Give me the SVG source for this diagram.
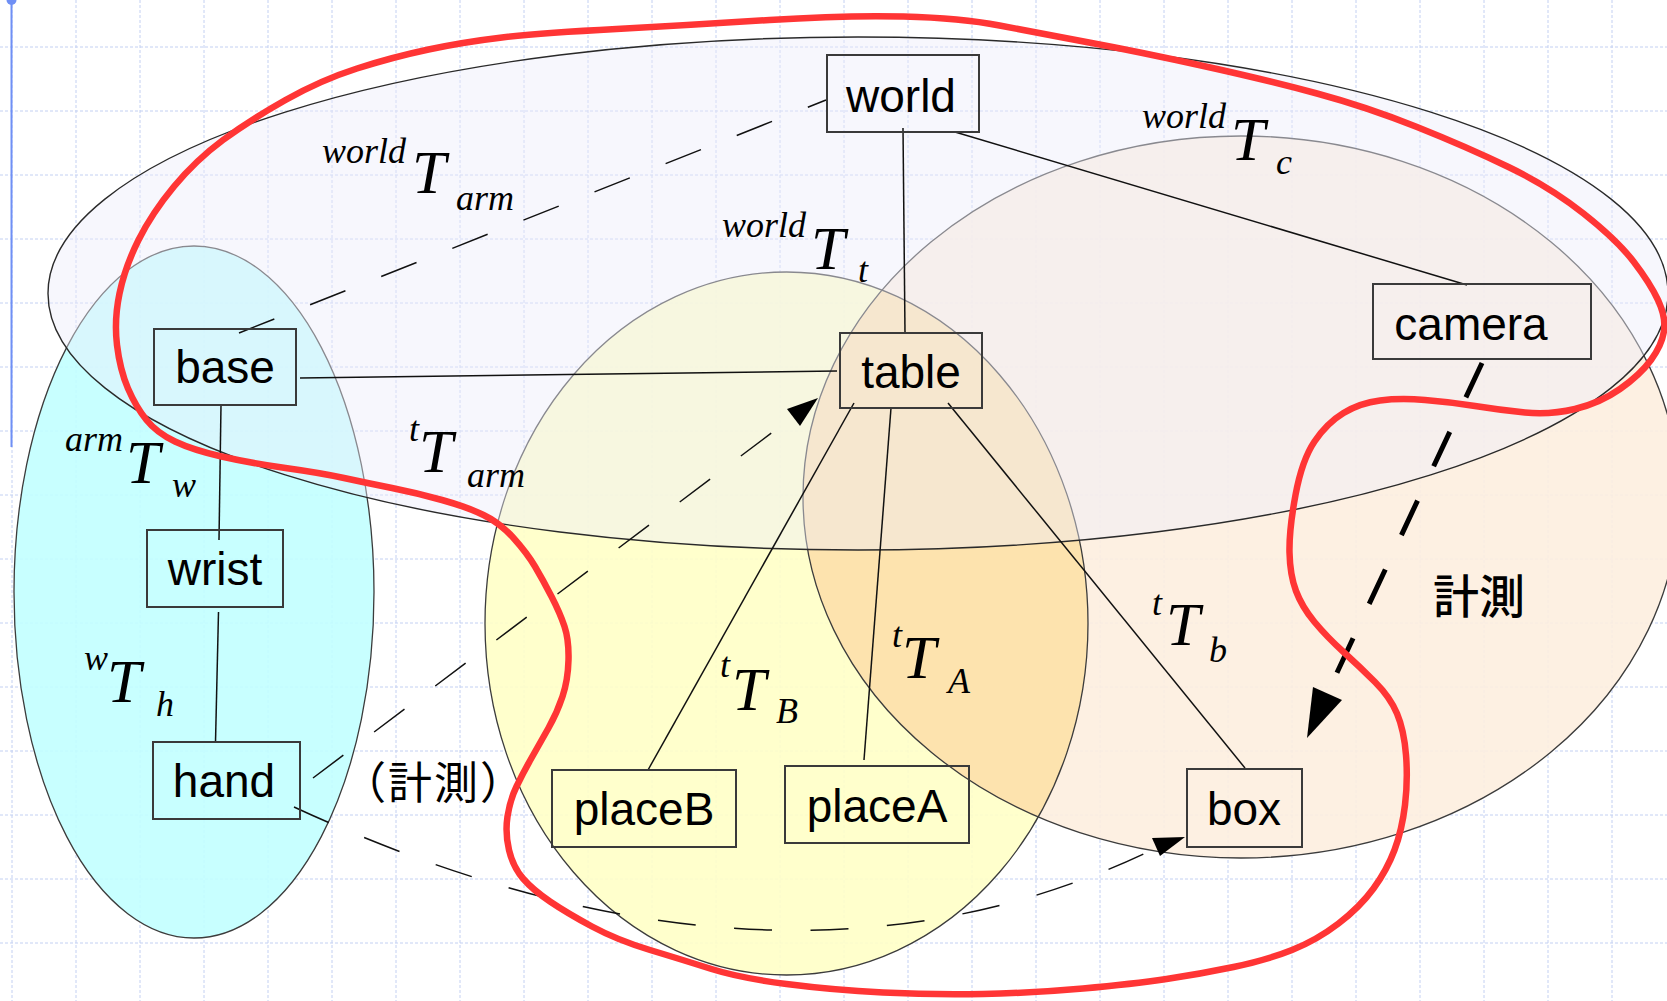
<svg xmlns="http://www.w3.org/2000/svg" width="1667" height="1001" viewBox="0 0 1667 1001">
<defs>
<style>
.grid{fill:none;stroke:#c3d0f2;stroke-width:1;stroke-dasharray:3 2}
.ol{fill:none;stroke:#3c3c3c;stroke-width:1.3}
.node rect{fill:none;stroke:#3a3a3a;stroke-width:2}
.node text{font-family:"Liberation Sans",Arial,sans-serif;font-size:46px;fill:#000;text-anchor:middle}
.ln{fill:none;stroke:#111;stroke-width:1.5}
.dash{fill:none;stroke:#111;stroke-width:1.5;stroke-dasharray:38 38.5}
.thick{fill:none;stroke:#000;stroke-width:5;stroke-dasharray:38 38}
.head{fill:#000}
.m{font-family:"Liberation Serif","Times New Roman",serif;font-style:italic;fill:#000}
.T{font-size:61px}
.s{font-size:36px}
.jp{font-family:"Noto Sans CJK JP","Noto Sans CJK SC",sans-serif;fill:#000;text-anchor:middle}
</style>
<clipPath id="yc"><ellipse cx="786.5" cy="623.5" rx="301.5" ry="351.5"/></clipPath>
</defs>
<rect width="1667" height="1001" fill="#fff"/>
<path class="grid" d="M12 0V1001M76 0V1001M140 0V1001M204 0V1001M268 0V1001M332 0V1001M396 0V1001M460 0V1001M524 0V1001M588 0V1001M652 0V1001M716 0V1001M780 0V1001M844 0V1001M908 0V1001M972 0V1001M1036 0V1001M1100 0V1001M1164 0V1001M1228 0V1001M1292 0V1001M1356 0V1001M1420 0V1001M1484 0V1001M1548 0V1001M1612 0V1001M0 47H1667M0 111H1667M0 175H1667M0 239H1667M0 303H1667M0 367H1667M0 431H1667M0 495H1667M0 559H1667M0 623H1667M0 687H1667M0 751H1667M0 815H1667M0 879H1667M0 943H1667"/>
<line x1="11.5" y1="0" x2="11.5" y2="447" stroke="#6f8ff5" stroke-width="2"/>
<circle cx="11.5" cy="0" r="5" fill="#6f8ff5"/>
<g id="regions">
<ellipse cx="194" cy="592" rx="180" ry="346" fill="#c0ffff" fill-opacity="0.88"/>
<ellipse cx="786.5" cy="623.5" rx="301.5" ry="351.5" fill="#ffffc5" fill-opacity="0.88"/>
<ellipse cx="1241" cy="497" rx="438" ry="361" fill="#fdeede" fill-opacity="0.88"/>
<ellipse cx="1241" cy="497" rx="438" ry="361" fill="#fde1a9" fill-opacity="0.9" clip-path="url(#yc)"/>
<ellipse class="ol" cx="194" cy="592" rx="180" ry="346"/>
<ellipse class="ol" cx="786.5" cy="623.5" rx="301.5" ry="351.5"/>
<ellipse class="ol" cx="1241" cy="497" rx="438" ry="361"/>
<ellipse cx="858" cy="293.5" rx="810" ry="256.5" fill="#ededfa" fill-opacity="0.44" stroke="#2a2a2a" stroke-width="1.4"/>
</g>
<g id="connectors">
<line class="ln" x1="903" y1="128" x2="905" y2="333"/>
<line class="ln" x1="955" y1="132" x2="1467" y2="285"/>
<line class="ln" x1="300" y1="378" x2="837" y2="371"/>
<line class="ln" x1="221" y1="405" x2="219" y2="540"/>
<line class="ln" x1="218.5" y1="612" x2="215.5" y2="742"/>
<line class="ln" x1="854" y1="403" x2="648" y2="770"/>
<line class="ln" x1="891" y1="408" x2="864" y2="760"/>
<line class="ln" x1="948" y1="403" x2="1245" y2="768"/>
<line class="dash" x1="239" y1="333" x2="826" y2="100"/>
<line class="dash" x1="313" y1="778" x2="794" y2="416"/>
<polygon class="head" points="818,398 787,409 800,426"/>
<path class="dash" d="M294,807 C560,930 865,990 1156,848"/>
<polygon class="head" points="1185,837 1152,838 1160,856"/>
<line class="thick" x1="1482" y1="363" x2="1327" y2="694"/>
<polygon class="head" points="1307,738 1313,687 1342,700"/>
</g>
<path id="boundary" fill="none" stroke="#ff3535" stroke-width="6.5" stroke-linejoin="round" d="M769.5,20 Q846,15 903.5,16.5 Q961,18 999.5,25.5 Q1038,33 1089,42.5 Q1140,52 1203.5,66 Q1267,80 1317,93.5 Q1367,107 1417,127 Q1467,147 1508.5,167 Q1550,187 1583.5,213.5 Q1617,240 1633.5,261.5 Q1650,283 1658,300 Q1666,317 1664,331 Q1662,345 1651,360 Q1640,375 1620,389 Q1600,403 1575,409 Q1550,415 1525,412.5 Q1500,410 1475,406 Q1450,402 1425,400 Q1400,398 1380,400.5 Q1360,403 1343.5,413 Q1327,423 1314.5,441.5 Q1302,460 1295.5,495 Q1289,530 1289.5,552.5 Q1290,575 1296,591 Q1302,607 1314.5,622 Q1327,637 1343.5,652 Q1360,667 1375,682 Q1390,697 1397,713.5 Q1404,730 1406,755 Q1408,780 1405,805 Q1402,830 1394.5,850 Q1387,870 1373.5,888.5 Q1360,907 1338.5,923.5 Q1317,940 1292,950 Q1267,960 1233.5,967 Q1200,974 1166.5,979 Q1133,984 1083,988.5 Q1033,993 983,994 Q933,995 883,992.5 Q833,990 786.5,984 Q740,978 711.5,969 Q683,960 650,950 Q617,940 592,926.5 Q567,913 550,901.5 Q533,890 523,878.5 Q513,867 509,850 Q505,833 507.5,816.5 Q510,800 516.5,786.5 Q523,773 531.5,758 Q540,743 548.5,728 Q557,713 562.5,696.5 Q568,680 568.5,660 Q569,640 564.5,626.5 Q560,613 551.5,596.5 Q543,580 535,566.5 Q527,553 513.5,538 Q500,523 483.5,515 Q467,507 442,500 Q417,493 392,488 Q367,483 344,478 Q321,473 285.5,468 Q250,463 221.5,456.5 Q193,450 175,441.5 Q157,433 146.5,420 Q136,407 128,388.5 Q120,370 117,345 Q114,320 119.5,293.5 Q125,267 138.5,240 Q152,213 174,186.5 Q196,160 223,140 Q250,120 285.5,100 Q321,80 357,68.5 Q393,57 428.5,49.5 Q464,42 502,37.5 Q540,33 616.5,29 Q693,25 769.5,20 Z"/>
<g id="n-world" class="node"><rect x="827" y="55" width="152" height="77"/><text x="901" y="112">world</text></g>
<g id="n-camera" class="node"><rect x="1373" y="284" width="218" height="75"/><text x="1471" y="340">camera</text></g>
<g id="n-table" class="node"><rect x="840" y="333" width="142" height="75"/><text x="911" y="388">table</text></g>
<g id="n-base" class="node"><rect x="154" y="329" width="142" height="76"/><text x="225" y="383">base</text></g>
<g id="n-wrist" class="node"><rect x="147" y="530" width="136" height="77"/><text x="215" y="585">wrist</text></g>
<g id="n-hand" class="node"><rect x="153" y="742" width="147" height="77"/><text x="224" y="797">hand</text></g>
<g id="n-placeB" class="node"><rect x="552" y="770" width="184" height="77"/><text x="644" y="825">placeB</text></g>
<g id="n-placeA" class="node"><rect x="785" y="766" width="184" height="77"/><text x="877" y="822">placeA</text></g>
<g id="n-box" class="node"><rect x="1187" y="769" width="115" height="78"/><text x="1244" y="825">box</text></g>
<g id="labels">
<text class="m s" x="322" y="163">world</text><text class="m T" x="412" y="193">T</text><text class="m s" x="456" y="210">arm</text>
<text class="m s" x="722" y="237">world</text><text class="m T" x="811" y="269">T</text><text class="m s" x="858" y="282">t</text>
<text class="m s" x="1142" y="128">world</text><text class="m T" x="1231" y="160">T</text><text class="m s" x="1276" y="174">c</text>
<text class="m s" x="65" y="451">arm</text><text class="m T" x="126" y="483">T</text><text class="m s" x="172" y="497">w</text>
<text class="m s" x="409" y="441">t</text><text class="m T" x="419" y="472">T</text><text class="m s" x="467" y="487">arm</text>
<text class="m s" x="84" y="670">w</text><text class="m T" x="107" y="702">T</text><text class="m s" x="156" y="716">h</text>
<text class="m s" x="720" y="677">t</text><text class="m T" x="732" y="710">T</text><text class="m s" x="776" y="723">B</text>
<text class="m s" x="892" y="647">t</text><text class="m T" x="902" y="678">T</text><text class="m s" x="948" y="693">A</text>
<text class="m s" x="1152" y="615">t</text><text class="m T" x="1166" y="645">T</text><text class="m s" x="1209" y="662">b</text>
<text class="jp" x="434" y="799" font-size="44" letter-spacing="2">（計測）</text>
<text class="jp" x="1479" y="613" font-size="46" font-weight="500">計測</text>
</g>
</svg>
